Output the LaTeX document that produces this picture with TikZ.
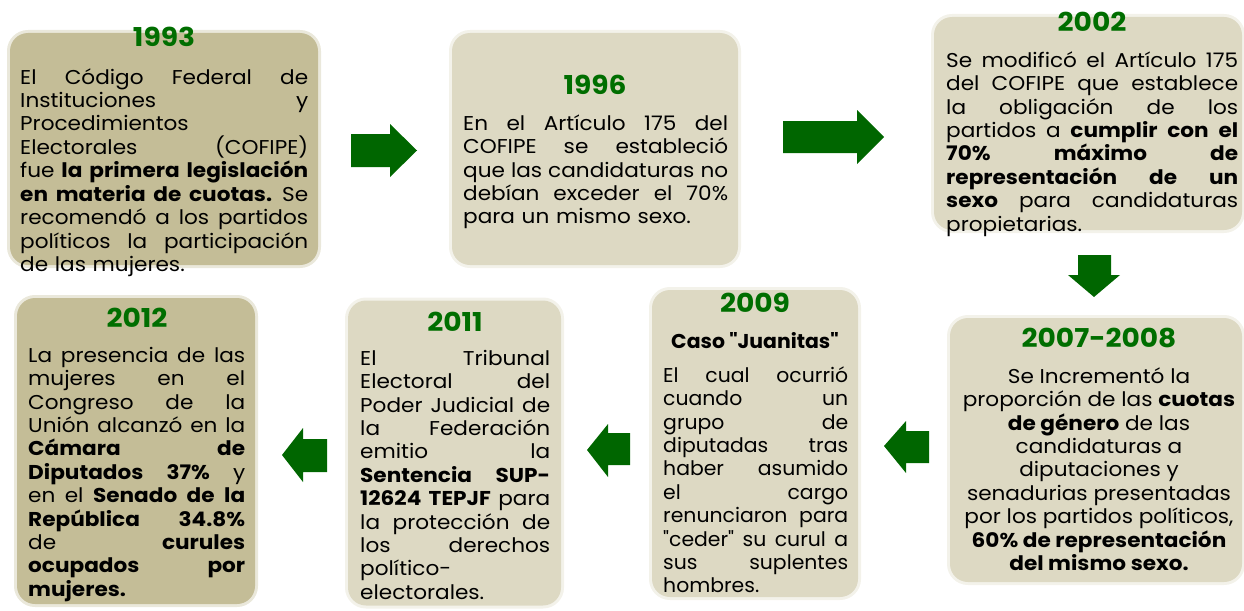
\documentclass[tikz,border=0pt]{standalone}
\usepackage{fontspec}
\setmainfont{Poppins}[FakeStretch=1.08]
\newfontfamily\midfont[FakeStretch=1.02]{Poppins}
\definecolor{darkbox}{RGB}{196,189,151}
\definecolor{lightbox}{RGB}{221,217,195}
\definecolor{yeargreen}{RGB}{0,110,0}
\definecolor{arrowgreen}{RGB}{0,102,0}
\setlength{\parindent}{0pt}
\newlength{\cw}
\newcommand\jl[1]{\leavevmode\hbox to \cw{\spaceskip=\fontdimen2\font plus 1fil minus 0.1em\relax #1}\par}
\newcommand\jf[1]{\leavevmode\hbox to \cw{\spaceskip=\fontdimen2\font plus 1fil minus 0.1em\relax\vrule width 0pt height 18pt\relax #1}\par}
\newcommand\pl[1]{\leavevmode\hbox to \cw{#1\hfil}\par}
\tikzset{
  card/.style={rectangle, rounded corners=18pt, inner sep=0pt, fill=#1,
    preaction={draw=#1, line width=6pt, draw opacity=0.35}},
  year/.style={anchor=base, inner sep=0pt, text=yeargreen, font=\fontsize{26}{30}\selectfont\bfseries},
  body/.style={anchor=north west, inner sep=0pt, text width=#1,
    execute at begin node={\setlength{\cw}{#1}},
    font=\fontsize{20}{23.4}\selectfont},
  cbody/.style={anchor=north, inner sep=0pt, align=center,
    font=\fontsize{20}{23.4}\selectfont},
  blockarrow/.style={fill=arrowgreen}
}
\begin{document}
\begin{tikzpicture}[x=1pt,y=-1pt]
\useasboundingbox (0,0) rectangle (1244,610);
% cards
\node[card=darkbox, minimum width=308pt, minimum height=232pt] (b1993) at (164,149) {};
\node[card=lightbox, minimum width=286pt, minimum height=232pt] (b1996) at (595,149) {};
\node[card=lightbox, minimum width=308pt, minimum height=213pt] (b2002) at (1088,123.5) {};
\node[card=lightbox, minimum width=292pt, minimum height=264pt] (b2007) at (1096,450) {};
\node[card=lightbox, minimum width=206pt, minimum height=307pt] (b2009) at (755,443.5) {};
\node[card=lightbox, minimum width=213pt, minimum height=305pt] (b2011) at (454.5,453) {};
\node[card=darkbox, minimum width=238pt, minimum height=306pt] (b2012) at (136,451) {};
% years
\node[year] (y1993) at (164,47) {1993};
\node[year] (y1996) at (595,94) {1996};
\node[year] (y2002) at (1092,32) {2002};
\node[year] (y2007) at (1099,347) {2007-2008};
\node[year] (y2009) at (755,312) {2009};
\node[year] (y2011) at (455,331) {2011};
\node[year] (y2012) at (137,327) {2012};
% texts
\node[body=288pt] (t1993) at (20,66) {%
\jf{El Código Federal de}
\jl{Instituciones y}
\pl{Procedimientos}
\jl{Electorales (COFIPE)}
\jl{fue \textbf{la primera legislación}}
\jl{\textbf{en materia de cuotas.} Se}
\jl{recomendó a los partidos}
\jl{políticos la participación}
\pl{de las mujeres.}};
\node[body=265pt] (t1996) at (463,112) {%
\jf{En el Artículo 175 del}
\jl{COFIPE se estableció}
\jl{que las candidaturas no}
\jl{debían exceder el 70\%}
\pl{para un mismo sexo.}};
\node[body=292pt] (t2002) at (946,49) {%
\jf{Se modificó el Artículo 175}
\jl{del COFIPE que establece}
\jl{la obligación de los}
\jl{partidos a \textbf{cumplir con el}}
\jl{\textbf{70\% máximo de}}
\jl{\textbf{representación de un}}
\jl{\textbf{sexo} para candidaturas}
\pl{propietarias.}};
\node[cbody] (t2007) at (1099,365) {%
\rule{0pt}{18pt}Se Incrementó la\\
proporción de las \textbf{cuotas}\\
\textbf{de género} de las\\
candidaturas a\\
diputaciones y\\
senadurias presentadas\\
por los partidos políticos,\\
\textbf{60\% de representación}\\
\textbf{del mismo sexo.}};
\node[anchor=base, inner sep=0pt, font=\midfont\fontsize{20}{23.4}\selectfont\bfseries] (c2009) at (755,348) {Caso "Juanitas"};
\node[body=185pt, font=\midfont\fontsize{20}{23.4}\selectfont] (t2009) at (663,364) {%
\jf{El cual ocurrió}
\jl{cuando un}
\jl{grupo de}
\jl{diputadas tras}
\jl{haber asumido}
\jl{el cargo}
\jl{renunciaron para}
\jl{"ceder" su curul a}
\jl{sus suplentes}
\pl{hombres.}};
\node[body=190pt] (t2011) at (360,347) {%
\jf{El Tribunal}
\jl{Electoral del}
\jl{Poder Judicial de}
\jl{la Federación}
\jl{emitio la}
\jl{\textbf{Sentencia SUP-}}
\jl{\textbf{12624 TEPJF} para}
\jl{la protección de}
\jl{los derechos}
\pl{político-}
\pl{electorales.}};
\node[body=217pt] (t2012) at (28,344) {%
\jf{La presencia de las}
\jl{mujeres en el}
\jl{Congreso de la}
\jl{Unión alcanzó en la}
\jl{\textbf{Cámara de}}
\jl{\textbf{Diputados 37\%} y}
\jl{en el \textbf{Senado de la}}
\jl{\textbf{República 34.8\%}}
\jl{de \textbf{curules}}
\jl{\textbf{ocupados por}}
\pl{\textbf{mujeres.}}};
% block arrows
\fill[blockarrow] (351,134) -- (390,134) -- (390,124) -- (417,150.5) -- (390,177) -- (390,167) -- (351,167) -- cycle;
\fill[blockarrow] (783,121) -- (857,121) -- (857,110) -- (884,137) -- (857,164) -- (857,153) -- (783,153) -- cycle;
\fill[blockarrow] (1078,255) -- (1111,255) -- (1111,275) -- (1120,275) -- (1094,297) -- (1068,275) -- (1078,275) -- cycle;
\fill[blockarrow] (884,446) -- (906,421) -- (906,431) -- (929,431) -- (929,463) -- (906,463) -- (906,473) -- cycle;
\fill[blockarrow] (587,450) -- (608,424) -- (608,433) -- (630,433) -- (630,465) -- (608,465) -- (608,477) -- cycle;
\fill[blockarrow] (282,455) -- (303,428) -- (303,439) -- (327,439) -- (327,472) -- (303,472) -- (303,482) -- cycle;
\end{tikzpicture}
\end{document}
